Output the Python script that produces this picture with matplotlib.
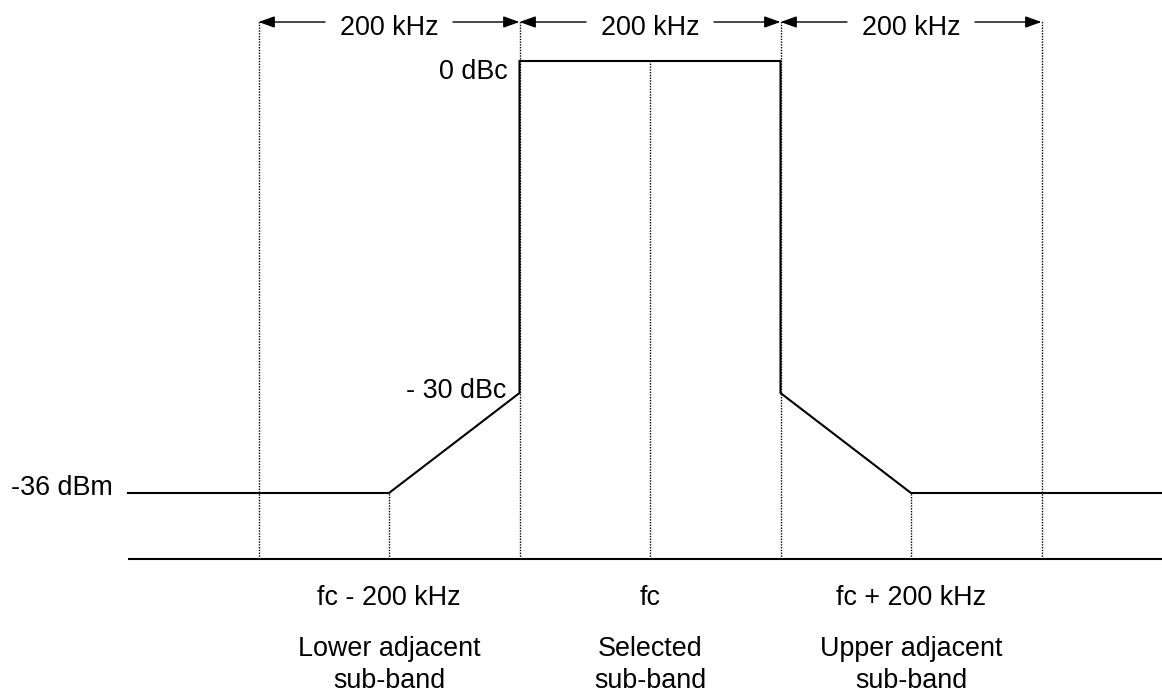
import matplotlib
matplotlib.use("Agg")
import matplotlib.pyplot as plt
from matplotlib.patches import FancyArrowPatch

plt.rcParams['font.family'] = ['Liberation Sans', 'DejaVu Sans']

# ---- data (frequency offsets from fc in kHz, schematic heights) ----
mask_freq = [-400, -200, -100, -100, 100, 100, 200, 400]
mask_level = [66, 66, 166, 498, 498, 166, 66, 66]   # schematic height units
band_edges = [-300, -100, 100, 300]
span_labels = ["200 kHz", "200 kHz", "200 kHz"]
center_freqs = [-200, 0, 200]
center_labels = ["fc - 200 kHz", "fc", "fc + 200 kHz"]
band_names = ["Lower adjacent\nsub-band", "Selected\nsub-band", "Upper adjacent\nsub-band"]
level_labels = ["0 dBc", "- 30 dBc", "-36 dBm"]

W, H, DPI = 1162, 693, 100
fig = plt.figure(figsize=(W / DPI, H / DPI), dpi=DPI)
ax = fig.add_axes([0, 0, 1, 1])
PX = 1.305  # pixels per kHz
ax.set_xlim((0 - 650) / PX, (W - 650) / PX)
ax.set_ylim(559 - H, 559)
ax.axis('off')

def yp(py):
    return 559 - py

FS = 19.4
dot = dict(color='black', lw=1.0, linestyle=(0, (1, 1)))

# baseline
ax.plot([-400, 400], [0, 0], color='black', lw=1.5, solid_capstyle='butt')

# dotted verticals
top_y = yp(20)
for f in band_edges:
    ax.plot([f, f], [0, top_y], **dot)
ax.plot([-200, -200], [0, mask_level[1]], **dot)
ax.plot([200, 200], [0, mask_level[6]], **dot)
ax.plot([0, 0], [0, mask_level[3]], **dot)

# mask
ax.plot(mask_freq, mask_level, color='black', lw=1.5, solid_joinstyle='miter')

# span arrows
arr_y = yp(22)
half_text = 50 / PX
gap = 14 / PX
for i, lab in enumerate(span_labels):
    a, b = band_edges[i], band_edges[i + 1]
    c = (a + b) / 2
    ax.text(c, yp(35), lab, ha='center', va='baseline', fontsize=FS)
    for start, end in [(c - half_text - gap, a), (c + half_text + gap, b)]:
        ax.add_patch(FancyArrowPatch((start, arr_y), (end, arr_y),
                                     arrowstyle='-|>,head_length=0.7,head_width=0.25',
                                     mutation_scale=14, color='black', lw=1.0,
                                     shrinkA=0, shrinkB=0))

# level labels
ax.text((508 - 650) / PX, yp(79), level_labels[0], ha='right', va='baseline', fontsize=FS)
ax.text((506 - 650) / PX, yp(398), level_labels[1], ha='right', va='baseline', fontsize=FS)
ax.text((11 - 650) / PX, yp(495), level_labels[2], ha='left', va='baseline', fontsize=FS)

# frequency and band labels
for f, lab, name in zip(center_freqs, center_labels, band_names):
    ax.text(f, yp(605), lab, ha='center', va='baseline', fontsize=FS)
    l1, l2 = name.split('\n')
    ax.text(f, yp(656), l1, ha='center', va='baseline', fontsize=FS)
    ax.text(f, yp(688), l2, ha='center', va='baseline', fontsize=FS)

fig.savefig('out.png', dpi=DPI, facecolor='white')
